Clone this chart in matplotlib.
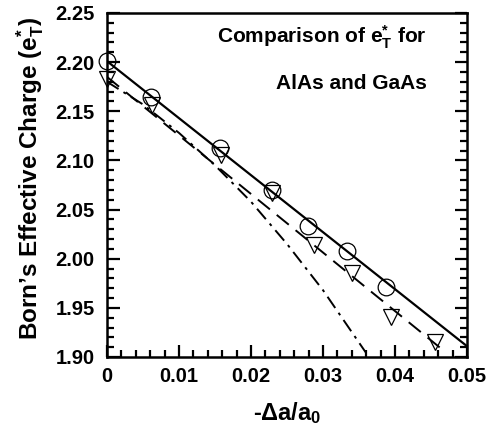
import matplotlib
matplotlib.use("Agg")
import matplotlib.pyplot as plt
from matplotlib.ticker import MultipleLocator, FormatStrFormatter

plt.rcParams['font.family'] = ['Liberation Sans', 'DejaVu Sans']
plt.rcParams['font.weight'] = 'bold'
plt.rcParams['mathtext.fontset'] = 'custom'
plt.rcParams['mathtext.rm'] = 'Liberation Sans:bold'
plt.rcParams['mathtext.it'] = 'Liberation Sans:bold'
plt.rcParams['mathtext.bf'] = 'Liberation Sans:bold'

# donnees
circle_x = [0.0, 0.0061, 0.0157, 0.0229, 0.0279, 0.0334, 0.0388]
circle_y = [2.201, 2.1645, 2.1127, 2.070, 2.0336, 2.0082, 1.9715]

tri_x = [0.0, 0.0063, 0.0159, 0.0229, 0.0287, 0.034, 0.0395, 0.0456]
tri_y = [2.183, 2.156, 2.1055, 2.0666, 2.014, 1.985, 1.941, 1.9156]

solid_x = [0.0, 0.05]
solid_y = [2.201, 1.911]

dash_x = [0.0, 0.0465]
dash_y = [2.185, 1.908]

dashdot_x = [0.0, 0.005, 0.010, 0.015, 0.020, 0.025, 0.030, 0.036]
dashdot_y = [2.180, 2.157, 2.128, 2.095, 2.058, 2.015, 1.968, 1.904]

fig = plt.figure(figsize=(4.94, 4.24), dpi=100)
ax = fig.add_axes([107/494, 1 - 357/424, 360/494, 344/424])

ax.plot(solid_x, solid_y, color='black', lw=1.6)
ax.plot(dash_x, dash_y, color='black', lw=1.4, dashes=(8, 4.5))
ax.plot(dashdot_x, dashdot_y, color='black', lw=1.4, dashes=(7, 3, 1.5, 3))
ax.plot(circle_x, circle_y, 'o', ms=12, mfc='none', mec='black', mew=0.9, clip_on=False)
ax.plot(tri_x, tri_y, 'v', ms=11, mfc='none', mec='black', mew=0.9, clip_on=False)

ax.set_xlim(0, 0.05)
ax.set_ylim(1.90, 2.25)
ax.xaxis.set_major_locator(MultipleLocator(0.01))
ax.xaxis.set_minor_locator(MultipleLocator(0.002))
ax.yaxis.set_major_locator(MultipleLocator(0.05))
ax.yaxis.set_minor_locator(MultipleLocator(0.01))
ax.yaxis.set_major_formatter(FormatStrFormatter('%.2f'))
ax.set_xticks([0, 0.01, 0.02, 0.03, 0.04, 0.05])
ax.set_xticklabels(['0', '0.01', '0.02', '0.03', '0.04', '0.05'])

ax.tick_params(which='both', direction='in', left=True, right=True, top=False, bottom=True,
               width=1.6, labelsize=14.5)
ax.tick_params(which='major', length=9)
ax.tick_params(which='minor', length=5)
ax.tick_params(axis='y', pad=9)
ax.tick_params(axis='x', pad=7)
for s in ax.spines.values():
    s.set_linewidth(1.8)

ax.set_ylabel("Born’s Effective Charge (e$^{*}_{\\rm T}$)", fontsize=17.5, fontweight='bold')
ax.yaxis.set_label_coords(-0.17, 0.52)
ax.set_xlabel("-Δa/a$_{0}$", fontsize=17, fontweight='bold', labelpad=10)

ax.text(0.889, 0.93, "Comparison of e$^{*}_{\\rm T}$ for", transform=ax.transAxes,
        ha='right', va='center', fontsize=15, fontweight='bold')
ax.text(0.889, 0.795, "AlAs and GaAs", transform=ax.transAxes,
        ha='right', va='center', fontsize=15, fontweight='bold')

fig.savefig("out.png", dpi=100)
